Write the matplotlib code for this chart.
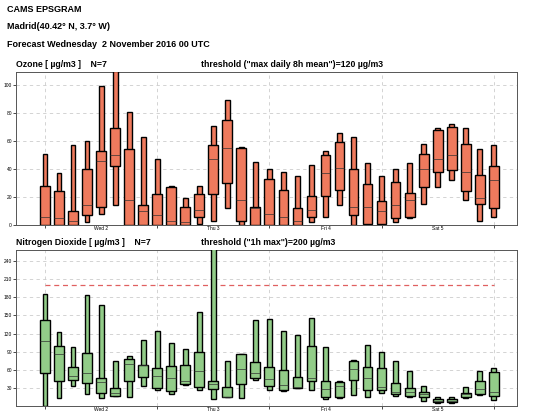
import numpy as np
import matplotlib; matplotlib.use("Agg")
import matplotlib.pyplot as plt

plt.rcParams["font.family"] = ["Liberation Sans", "DejaVu Sans"]

STEPS = list(range(0, 97, 3))  # forecast hours

# ozone: min, q1, median, q3, max
O3_MIN = [0,0,0,2,8,14,0,0,0,0,0,1,3,12,0,0,0,0,0,2,6,14,0,0,0,2,5,15,27,32,18,3,6]
O3_Q1  = [0,0,0,7,13,42,0,0,0,0,0,6,22,30,3,0,0,0,0,6,21,25,7,1,1,5,6,27,38,39,24,15,12]
O3_MED = [6,5,3,14,46,50,18,10,7,3,2,11,47,55,18,12,8,6,3,11,37,41,13,13,10,14,18,40,47,50,38,19,32]
O3_Q3  = [28,24,10,40,53,69,54,14,22,27,13,22,57,75,55,13,33,25,12,21,50,59,40,29,17,31,23,51,68,70,58,36,42]
O3_MAX = [51,37,57,60,99,110,81,63,47,28,19,28,71,89,56,45,40,38,35,43,53,66,63,44,35,40,44,58,69,72,69,54,57]

NO2_MIN = [0,13,33,20,13,17,15,33,26,19,35,26,12,14,13,43,27,25,29,26,11,13,18,15,21,17,15,8,5,4,13,18,10]
NO2_Q1  = [55,41,43,38,22,17,41,48,29,25,37,32,28,14,37,46,33,26,30,41,15,14,43,26,26,19,16,14,7,7,15,19,16]
NO2_MED = [107,86,49,55,39,22,69,68,50,47,41,58,37,15,61,55,44,35,31,46,28,33,61,46,31,23,23,19,8,8,19,28,23]
NO2_Q3  = [143,100,64,87,47,29,77,68,63,66,68,89,41,31,86,73,64,60,48,100,41,40,75,64,63,38,30,23,11,11,22,41,56]
NO2_MAX = [185,123,98,184,167,74,82,109,124,105,95,155,300,74,86,142,144,125,117,146,98,42,76,101,89,74,58,33,14,14,31,58,63]

DAYS = ["Wed 2", "Thu 3", "Fri 4", "Sat 5"]

fig = plt.figure(figsize=(5.56, 4.15), dpi=100)
fig.text(0.012, 0.978, "CAMS EPSGRAM", fontsize=6.5, fontweight="bold", va="center")
fig.text(0.012, 0.935, "Madrid(40.42° N, 3.7° W)", fontsize=6.5, fontweight="bold", va="center")
fig.text(0.012, 0.892, "Forecast Wednesday  2 November 2016 00 UTC", fontsize=6.5, fontweight="bold", va="center")

def panel(rect, mn, q1, md, q3, mx, color, ylim, yticks, title, thr_txt, thr=None):
    ax = fig.add_axes(rect)
    x = np.array(STEPS)
    mn, q1, md, q3, mx = map(np.array, (mn, q1, md, q3, mx))
    ax.bar(x, mx - mn, bottom=mn, width=1.0, color=color, edgecolor="black", lw=1.0, zorder=3)
    ax.bar(x, q3 - q1, bottom=q1, width=2.1, color=color, edgecolor="black", lw=1.0, zorder=4)
    ax.hlines(md, x - 1.05, x + 1.05, color="#333333", lw=0.5, zorder=5)
    if thr is not None:
        ax.plot([0, 96], [thr, thr], color="#e06060", ls=(0, (4, 3)), lw=0.9, zorder=2)
    ax.set_xlim(-6.2, 101)
    ax.set_ylim(*ylim)
    ax.set_yticks(yticks)
    ax.set_xticks(range(0, 97, 24))
    ax.set_xticks(range(12, 97, 24), minor=True)
    ax.set_xticklabels([])
    ax.set_xticklabels(DAYS, minor=True)
    ax.tick_params(axis="both", which="both", labelsize=3.5, length=2, width=0.5, pad=1)
    ax.tick_params(axis="x", which="minor", length=0)
    ax.grid(True, which="major", ls=(0, (4, 4)), color="#cccccc", lw=0.6, zorder=0)
    for s in ax.spines.values():
        s.set_linewidth(0.7); s.set_color("#555555")
    ax.text(0.0, 1.02, title, transform=ax.transAxes, fontsize=6.3, fontweight="bold", va="bottom")
    ax.text(0.37, 1.02, thr_txt, transform=ax.transAxes, fontsize=6.3, fontweight="bold", va="bottom")
    return ax

panel([0.029, 0.458, 0.901, 0.369], O3_MIN, O3_Q1, O3_MED, O3_Q3, O3_MAX, "#ef7a5d",
      (0, 109.5), range(0, 101, 20), "Ozone [ µg/m3 ]    N=7",
      'threshold ("max daily 8h mean")=120 µg/m3')
panel([0.029, 0.022, 0.901, 0.376], NO2_MIN, NO2_Q1, NO2_MED, NO2_Q3, NO2_MAX, "#92cc88",
      (0, 259), range(30, 241, 30), "Nitrogen Dioxide [ µg/m3 ]    N=7",
      'threshold ("1h max")=200 µg/m3', thr=200)

fig.savefig("out.png", dpi=100)
